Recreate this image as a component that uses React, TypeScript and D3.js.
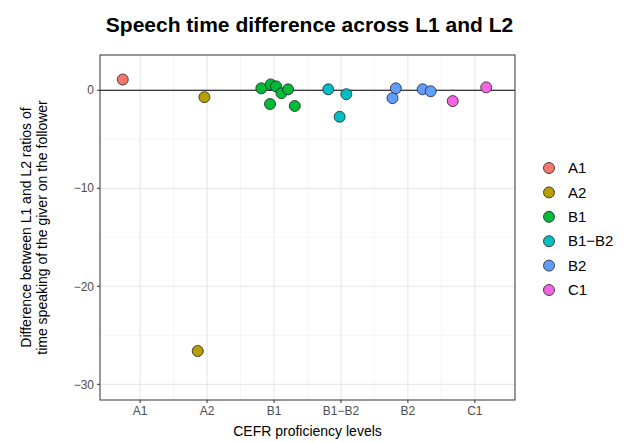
import React from 'react';
import * as d3 from 'd3';

const levels = ['A1', 'A2', 'B1', 'B1\u2212B2', 'B2', 'C1'];
const colors = ['#F8766D', '#B79F00', '#00BA38', '#00BFC4', '#619CFF', '#F564E3'];
// each point: level index, horizontal jitter (category units), value
const pointLevel = [0, 1, 1, 2, 2, 2, 2, 2, 2, 2, 3, 3, 3, 4, 4, 4, 4, 5, 5];
const pointJitter = [-0.26, -0.04, -0.14, -0.19, -0.05, 0.03, -0.06, 0.11, 0.21, 0.31, -0.19, 0.08, -0.02, -0.23, -0.18, 0.22, 0.34, -0.33, 0.17];
const pointValue = [1.1, -0.7, -26.6, 0.2, 0.6, 0.4, -1.4, -0.3, 0.1, -1.6, 0.1, -0.4, -2.7, -0.8, 0.2, 0.1, -0.1, -1.1, 0.3];
const yTicks = [0, -10, -20, -30];
const yMinor = [-5, -15, -25];

export default function App() {
  const L = 100, R = 515, T = 55, B = 400;
  const x = d3.scalePoint<string>().domain(levels).range([L, R]).padding(0.6);
  const y = d3.scaleLinear().domain([-31.6, 3.6]).range([B, T]);
  const step = x.step();
  const font = 'Liberation Sans, Arial, sans-serif';
  return (
    <svg width={633} height={442} style={{ position: 'absolute', left: 0, top: 0 }} fontFamily={font}>
      <rect x={0} y={0} width={633} height={442} fill="#fff" />
      {yMinor.map(v => <line key={'m' + v} x1={L} x2={R} y1={y(v)} y2={y(v)} stroke="#f0f0f0" strokeWidth={0.6} />)}
      {levels.slice(0, -1).map((c, i) => <line key={'mx' + i} x1={x(c)! + step / 2} x2={x(c)! + step / 2} y1={T} y2={B} stroke="#f0f0f0" strokeWidth={0.6} />)}
      {yTicks.map(v => <line key={v} x1={L} x2={R} y1={y(v)} y2={y(v)} stroke="#e5e5e5" strokeWidth={1} />)}
      {levels.map(c => <line key={c} x1={x(c)} x2={x(c)} y1={T} y2={B} stroke="#e5e5e5" strokeWidth={1} />)}
      <line x1={L} x2={R} y1={y(0)} y2={y(0)} stroke="#000" strokeWidth={1.1} />
      {pointValue.map((v, i) => (
        <circle key={i} cx={x(levels[pointLevel[i]])! + pointJitter[i] * step} cy={y(v)} r={5.5}
          fill={colors[pointLevel[i]]} stroke="#222" strokeWidth={0.8} />
      ))}
      <rect x={L} y={T} width={R - L} height={B - T} fill="none" stroke="#333" strokeWidth={1} />
      {yTicks.map(v => (
        <g key={'t' + v}>
          <line x1={L - 3} x2={L} y1={y(v)} y2={y(v)} stroke="#333" />
          <text x={L - 6} y={y(v)} dy="0.35em" textAnchor="end" fontSize={12} fill="#4d4d4d">{d3.format('')(v).replace('-', '\u2212')}</text>
        </g>
      ))}
      {levels.map(c => (
        <g key={'x' + c}>
          <line x1={x(c)} x2={x(c)} y1={B} y2={B + 3} stroke="#333" />
          <text x={x(c)} y={B + 15} textAnchor="middle" fontSize={12} fill="#4d4d4d">{c}</text>
        </g>
      ))}
      <text x={(L + R) / 2} y={436} textAnchor="middle" fontSize={14}>CEFR proficiency levels</text>
      <text transform={`translate(31,${(T + B) / 2}) rotate(-90)`} textAnchor="middle" fontSize={14}>
        <tspan x={0} dy={0}>Difference between L1 and L2 ratios of</tspan>
        <tspan x={0} dy={16}>time speaking of the giver on the follower</tspan>
      </text>
      <text x={(L + R) / 2 + 2} y={32} textAnchor="middle" fontSize={21} fontWeight="bold">Speech time difference across L1 and L2</text>
      {levels.map((c, i) => (
        <g key={'l' + c} transform={`translate(549,${168 + i * 24.4})`}>
          <circle cx={0} cy={0} r={5.5} fill={colors[i]} stroke="#222" strokeWidth={0.8} />
          <text x={19} y={0} dy="0.35em" fontSize={15}>{c}</text>
        </g>
      ))}
    </svg>
  );
}
